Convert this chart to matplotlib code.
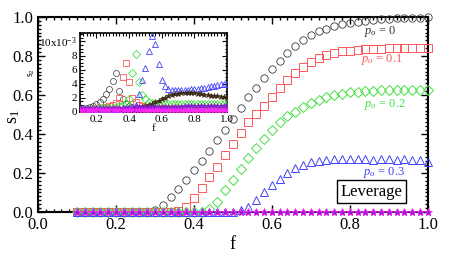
import matplotlib
matplotlib.use("Agg")
import matplotlib.pyplot as plt
from matplotlib.ticker import AutoMinorLocator, MultipleLocator

plt.rcParams['font.family'] = ['Liberation Serif', 'DejaVu Serif']
plt.rcParams['mathtext.fontset'] = 'custom'
plt.rcParams['mathtext.rm'] = 'Liberation Serif'
plt.rcParams['mathtext.it'] = 'Liberation Serif:italic'

# fraction of fundamentalists f (shared grid)
f = [0.10, 0.12, 0.14, 0.16, 0.18, 0.20, 0.22, 0.24, 0.26, 0.28,
     0.30, 0.32, 0.34, 0.36, 0.38, 0.40, 0.42, 0.44, 0.46, 0.48,
     0.50, 0.52, 0.54, 0.56, 0.58, 0.60, 0.62, 0.64, 0.66, 0.68,
     0.70, 0.72, 0.74, 0.76, 0.78, 0.80, 0.82, 0.84, 0.86, 0.88,
     0.90, 0.92, 0.94, 0.96, 0.98, 1.00]

# main panel: s1
s1_p0 = [0, 0, 0, 0, 0, 0, 0, 0, 0, 0,
         0.012, 0.038, 0.075, 0.118, 0.165, 0.213, 0.262, 0.315, 0.368, 0.420,
         0.478, 0.535, 0.588, 0.638, 0.688, 0.733, 0.776, 0.815, 0.852, 0.884,
         0.908, 0.926, 0.940, 0.952, 0.962, 0.970, 0.976, 0.981, 0.985, 0.988,
         0.991, 0.993, 0.995, 0.996, 0.997, 0.998]
s1_p1 = [0, 0, 0, 0, 0, 0, 0, 0, 0, 0,
         0, 0, 0, 0.005, 0.027, 0.070, 0.124, 0.178, 0.232, 0.290,
         0.347, 0.405, 0.460, 0.500, 0.545, 0.590, 0.635, 0.675, 0.712, 0.745,
         0.770, 0.790, 0.805, 0.815, 0.823, 0.828, 0.832, 0.835, 0.837, 0.838,
         0.839, 0.840, 0.840, 0.840, 0.840, 0.840]
s1_p2 = [0, 0, 0, 0, 0, 0, 0, 0, 0, 0,
         0, 0, 0, 0, 0, 0, 0, 0.014, 0.053, 0.111,
         0.166, 0.220, 0.275, 0.327, 0.374, 0.418, 0.460, 0.490, 0.515, 0.540,
         0.558, 0.575, 0.588, 0.600, 0.607, 0.613, 0.617, 0.620, 0.622, 0.623,
         0.624, 0.625, 0.625, 0.625, 0.625, 0.625]
s1_p3 = [0, 0, 0, 0, 0, 0, 0, 0, 0, 0,
         0, 0, 0, 0, 0, 0, 0, 0, 0, 0,
         0, 0.008, 0.027, 0.059, 0.102, 0.138, 0.169, 0.198, 0.224, 0.243,
         0.255, 0.263, 0.268, 0.270, 0.270, 0.270, 0.270, 0.270, 0.269, 0.270,
         0.270, 0.269, 0.270, 0.268, 0.266, 0.258]
s1_zero = [0, 0, 0, 0, 0, 0, 0, 0, 0, 0,
           0, 0, 0, 0, 0, 0, 0, 0, 0, 0,
           0, 0, 0, 0, 0, 0, 0, 0, 0, 0,
           0, 0, 0, 0, 0, 0, 0, 0, 0, 0,
           0, 0, 0, 0, 0, 0]

# inset: s2 (units of 1e-3)
s2_p0 = [0.4, 0.5, 0.6, 0.7, 0.9, 1.1, 1.4, 1.9, 2.5, 3.3,
         4.4, 5.5, 3.0, 1.8, 1.2, 0.9, 0.7, 0.6, 0.5, 0.5,
         0.4, 0.4, 0.4, 0.4, 0.4, 0.4, 0.4, 0.4, 0.4, 0.4,
         0.4, 0.4, 0.4, 0.4, 0.4, 0.4, 0.4, 0.4, 0.4, 0.4,
         0.4, 0.4, 0.4, 0.4, 0.4, 0.4]
s2_p1 = [0.3, 0.3, 0.35, 0.4, 0.45, 0.5, 0.55, 0.6, 0.7, 0.8,
         1.0, 1.3, 2.0, 5.0, 7.0, 4.3, 2.0, 1.4, 1.0, 0.8,
         0.7, 0.6, 0.6, 0.6, 0.6, 0.6, 0.55, 0.55, 0.55, 0.55,
         0.55, 0.55, 0.5, 0.5, 0.5, 0.5, 0.5, 0.5, 0.5, 0.5,
         0.5, 0.5, 0.5, 0.5, 0.5, 0.5]
s2_p2 = [0.3, 0.3, 0.35, 0.4, 0.4, 0.45, 0.5, 0.5, 0.55, 0.6,
         0.6, 0.7, 0.8, 1.0, 1.3, 1.9, 5.5, 8.2, 4.2, 2.4,
         1.8, 1.4, 1.3, 1.2, 1.2, 1.2, 1.2, 1.2, 1.2, 1.2,
         1.2, 1.2, 1.2, 1.2, 1.2, 1.2, 1.2, 1.2, 1.2, 1.2,
         1.2, 1.2, 1.2, 1.2, 1.2, 1.2]
s2_p3 = [0.2, 0.2, 0.25, 0.25, 0.3, 0.3, 0.3, 0.35, 0.35, 0.4,
         0.4, 0.45, 0.45, 0.5, 0.5, 0.5, 0.7, 1.0, 2.5, 4.5,
         6.3, 8.6, 10.8, 9.6, 6.8, 4.6, 3.7, 3.3, 3.1, 3.05,
         3.05, 3.1, 3.1, 3.15, 3.2, 3.25, 3.3, 3.35, 3.45, 3.55,
         3.65, 3.75, 3.85, 3.95, 4.0, 3.9]
s2_p4 = [0.3, 0.3, 0.3, 0.3, 0.3, 0.3, 0.3, 0.35, 0.35, 0.35,
         0.35, 0.4, 0.4, 0.4, 0.4, 0.4, 0.45, 0.5, 0.6, 0.7,
         0.85, 1.0, 1.2, 1.4, 1.6, 1.8, 2.0, 2.2, 2.35, 2.5,
         2.6, 2.65, 2.7, 2.7, 2.7, 2.65, 2.6, 2.5, 2.45, 2.4,
         2.3, 2.25, 2.2, 2.15, 2.1, 2.05]
s2_p5 = [0.5, 0.5, 0.5, 0.5, 0.5, 0.5, 0.5, 0.5, 0.55, 0.55,
         0.55, 0.55, 0.6, 0.6, 0.6, 0.6, 0.6, 0.65, 0.65, 0.65,
         0.65, 0.7, 0.7, 0.7, 0.7, 0.7, 0.75, 0.75, 0.75, 0.75,
         0.75, 0.75, 0.8, 0.8, 0.8, 0.8, 0.8, 0.8, 0.8, 0.8,
         0.8, 0.8, 0.8, 0.8, 0.8, 0.8]
s2_p6 = [0.25, 0.25, 0.25, 0.25, 0.25, 0.25, 0.25, 0.25, 0.25, 0.25,
         0.25, 0.25, 0.25, 0.25, 0.25, 0.25, 0.25, 0.25, 0.25, 0.25,
         0.3, 0.3, 0.3, 0.3, 0.3, 0.3, 0.3, 0.3, 0.3, 0.3,
         0.3, 0.3, 0.3, 0.3, 0.3, 0.3, 0.3, 0.3, 0.3, 0.3,
         0.3, 0.3, 0.3, 0.3, 0.3, 0.3]

main_ticks = [0.0, 0.2, 0.4, 0.6, 0.8, 1.0]
main_labels = ['0.0', '0.2', '0.4', '0.6', '0.8', '1.0']
ins_xticks = [0.2, 0.4, 0.6, 0.8, 1.0]
ins_xlabels = ['0.2', '0.4', '0.6', '0.8', '1.0']
ins_yticks = [0, 0.002, 0.004, 0.006, 0.008, 0.010]
ins_ylabels = ['0', '2', '4', '6', '8', '10x10$^{-3}$']

c_black = '#3a3a3a'
c_red = '#ff5858'
c_green = '#44e044'
c_blue = '#4242ff'
c_brown = '#3b2a12'
c_purple = '#8a1fd0'
c_magenta = '#ff22ff'

fig = plt.figure(figsize=(4.63, 2.59), dpi=100)
ax = fig.add_axes([0.082, 0.1815, 0.842, 0.753])

mk = dict(linestyle='none', clip_on=False, zorder=3)
ax.plot(f, s1_p0, marker='o', ms=5.3, mfc='none', mec=c_black, mew=0.6, **mk)
ax.plot(f, s1_p1, marker='s', ms=5.2, mfc='none', mec=c_red, mew=0.7, **mk)
ax.plot(f, s1_p2, marker='D', ms=4.7, mfc='none', mec=c_green, mew=0.7, **mk)
ax.plot(f, s1_p3, marker='^', ms=5.2, mfc='none', mec=c_blue, mew=0.7, **mk)
ax.plot(f, s1_zero, marker='*', ms=5, mfc=c_brown, mec=c_brown, mew=0.5, **mk)
ax.plot(f, s1_zero, marker='*', ms=6, mfc=c_purple, mec=c_magenta, mew=0.6, **mk)

ax.set_xlim(0, 1)
ax.set_ylim(0, 1)
ax.set_xticks(main_ticks)
ax.set_xticklabels(main_labels)
ax.set_yticks(main_ticks)
ax.set_yticklabels(main_labels)
ax.xaxis.set_minor_locator(AutoMinorLocator(10))
ax.yaxis.set_minor_locator(AutoMinorLocator(10))
ax.tick_params(which='both', direction='in', top=True, right=True, labelsize=12, width=1.0)
ax.tick_params(which='major', length=5)
ax.tick_params(which='minor', length=2.5)
for sp in ax.spines.values():
    sp.set_linewidth(1.5)
ax.set_xlabel('f', fontsize=13, labelpad=2)
ax.set_ylabel('s$_1$', fontsize=13)
ax.yaxis.set_label_coords(-0.04, 0.49)

ax.text(0.878, 0.925, r'$p_o$ = 0', color=c_black, fontsize=9, transform=ax.transAxes, ha='center', va='center')
ax.text(0.882, 0.78, r'$p_o$ = 0.1', color=c_red, fontsize=9, transform=ax.transAxes, ha='center', va='center')
ax.text(0.889, 0.55, r'$p_o$ = 0.2', color=c_green, fontsize=9, transform=ax.transAxes, ha='center', va='center')
ax.text(0.889, 0.205, r'$p_o$ = 0.3', color=c_blue, fontsize=9, transform=ax.transAxes, ha='center', va='center')
ax.text(0.855, 0.105, 'Leverage', fontsize=12, transform=ax.transAxes, ha='center', va='center',
        bbox=dict(boxstyle='square,pad=0.2', fc='white', ec='black', lw=1.0))

# inset
ins = fig.add_axes([0.173, 0.5676, 0.3175, 0.305])
mi = dict(linestyle='none', zorder=3)
ins.plot(f, [v * 1e-3 for v in s2_p0], marker='o', ms=4.3, mfc='none', mec=c_black, mew=0.5, **mi)
ins.plot(f, [v * 1e-3 for v in s2_p1], marker='s', ms=4.3, mfc='none', mec=c_red, mew=0.6, **mi)
ins.plot(f, [v * 1e-3 for v in s2_p2], marker='D', ms=4, mfc='none', mec=c_green, mew=0.6, **mi)
ins.plot(f, [v * 1e-3 for v in s2_p3], marker='^', ms=4.3, mfc='none', mec=c_blue, mew=0.6, **mi)
ins.plot(f, [v * 1e-3 for v in s2_p4], marker='*', ms=4, mfc=c_brown, mec=c_brown, mew=0.4, **mi)
ins.plot(f, [v * 1e-3 for v in s2_p5], marker='*', ms=4, mfc=c_purple, mec=c_purple, mew=0.4, **mi)
ins.plot(f, [v * 1e-3 for v in s2_p6], marker='*', ms=4.5, mfc=c_magenta, mec=c_magenta, mew=0.4, **mi)

ins.set_xlim(0.1, 1.0)
ins.set_ylim(0, 0.0112)
ins.set_xticks(ins_xticks)
ins.set_xticklabels(ins_xlabels)
ins.set_yticks(ins_yticks)
ins.set_yticklabels(ins_ylabels)
ins.xaxis.set_minor_locator(MultipleLocator(0.02))
ins.yaxis.set_minor_locator(MultipleLocator(0.0005))
ins.tick_params(which='both', direction='in', top=True, right=True, labelsize=8, width=0.8, pad=2)
ins.tick_params(which='major', length=3.5)
ins.tick_params(which='minor', length=1.8)
for sp in ins.spines.values():
    sp.set_linewidth(1.2)
ins.set_xlabel('f', fontsize=8, labelpad=0)
ins.set_ylabel('s$_2$', fontsize=7, labelpad=2)

fig.savefig('out.png', dpi=100)
